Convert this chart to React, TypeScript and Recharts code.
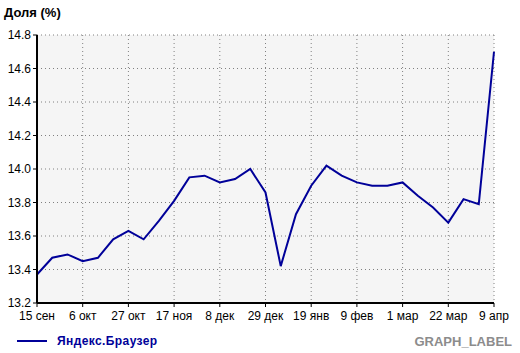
import React from "react";
import { LineChart, Line, XAxis, YAxis, CartesianGrid } from "recharts";

// weekly points, 15 Sep -> 9 Apr
const weeks = [
  "15 сен", "22 сен", "29 сен", "6 окт", "13 окт", "20 окт", "27 окт",
  "3 ноя", "10 ноя", "17 ноя", "24 ноя", "1 дек", "8 дек", "15 дек",
  "22 дек", "29 дек", "5 янв", "12 янв", "19 янв", "26 янв", "2 фев",
  "9 фев", "16 фев", "23 фев", "1 мар", "8 мар", "15 мар", "22 мар",
  "29 мар", "5 апр", "9 апр",
];

// share of Яндекс.Браузер, %
const share = [
  13.37, 13.47, 13.49, 13.45, 13.47, 13.58, 13.63,
  13.58, 13.69, 13.81, 13.95, 13.96, 13.92, 13.94,
  14.0, 13.86, 13.42, 13.73, 13.9, 14.02, 13.96,
  13.92, 13.9, 13.9, 13.92, 13.84, 13.77, 13.68,
  13.82, 13.79, 14.7,
];

const xTicks = [
  "15 сен", "6 окт", "27 окт", "17 ноя", "8 дек", "29 дек",
  "19 янв", "9 фев", "1 мар", "22 мар", "9 апр",
];
const yTicks = [13.2, 13.4, 13.6, 13.8, 14.0, 14.2, 14.4, 14.6, 14.8];

const data = weeks.map((w, i) => ({ week: w, share: share[i] }));

const FONT = "'Liberation Sans', Arial, sans-serif";
const LINE_COLOR = "#000099";

export default function App() {
  return (
    <div
      style={{
        position: "absolute",
        left: 0,
        top: 0,
        width: 520,
        height: 353,
        background: "#fff",
        fontFamily: FONT,
      }}
    >
      {/* title */}
      <div
        style={{
          position: "absolute",
          left: 4,
          top: 5,
          fontSize: 13,
          fontWeight: "bold",
          color: "#000",
        }}
      >
        Доля (%)
      </div>

      <LineChart
        width={520}
        height={353}
        data={data}
        margin={{ top: 35, right: 26, bottom: 20, left: 0 }}
      >
        <CartesianGrid
          stroke="#808080"
          strokeDasharray="1 3"
          fill="#f5f5f5"
        />
        <XAxis
          dataKey="week"
          ticks={xTicks}
          interval={0}
          height={30}
          tickSize={4}
          tickMargin={4}
          axisLine={{ stroke: "#000", strokeWidth: 2 }}
          tickLine={{ stroke: "#000" }}
          tick={{ fill: "#000", fontSize: 12, fontFamily: FONT }}
        />
        <YAxis
          width={37}
          domain={[13.2, 14.8]}
          ticks={yTicks}
          tickSize={4}
          tickMargin={2}
          tickFormatter={(v: number) => v.toFixed(1)}
          axisLine={{ stroke: "#000", strokeWidth: 2 }}
          tickLine={{ stroke: "#000" }}
          tick={{ fill: "#000", fontSize: 12, fontFamily: FONT }}
        />
        <Line
          dataKey="share"
          type="linear"
          stroke={LINE_COLOR}
          strokeWidth={2}
          dot={false}
          isAnimationActive={false}
        />
      </LineChart>

      {/* legend */}
      <div
        style={{
          position: "absolute",
          left: 17,
          top: 334,
          display: "flex",
          alignItems: "center",
          fontSize: 12,
          fontWeight: "bold",
          letterSpacing: 0.4,
          color: LINE_COLOR,
        }}
      >
        <span
          style={{
            display: "inline-block",
            width: 30,
            height: 2,
            background: LINE_COLOR,
            marginRight: 10,
          }}
        />
        Яндекс.Браузер
      </div>

      <div
        style={{
          position: "absolute",
          right: 8,
          top: 334,
          fontSize: 13,
          fontWeight: "bold",
          color: "#8c8c8c",
        }}
      >
        GRAPH_LABEL
      </div>
    </div>
  );
}
